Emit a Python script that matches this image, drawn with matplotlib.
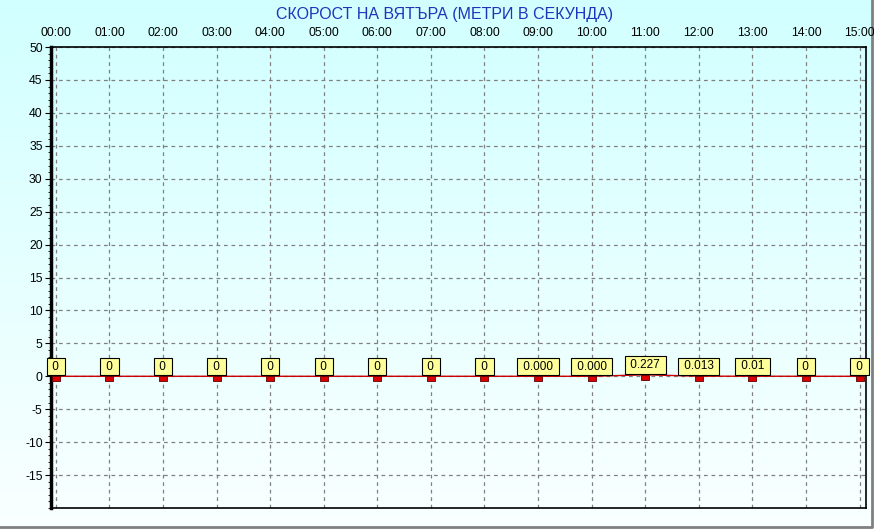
import numpy as np
import matplotlib
matplotlib.use("Agg")
from matplotlib import pyplot as plt
from matplotlib.path import Path

# Данни
hours = ["00:00", "01:00", "02:00", "03:00", "04:00", "05:00", "06:00", "07:00",
         "08:00", "09:00", "10:00", "11:00", "12:00", "13:00", "14:00", "15:00"]
wind = [0, 0, 0, 0, 0, 0, 0, 0, 0, 0.0, 0.0, 0.227, 0.013, 0.01, 0, 0]
labels = ["0", "0", "0", "0", "0", "0", "0", "0", "0",
          "0.000", "0.000", "0.227", "0.013", "0.01", "0", "0"]
title = "СКОРОСТ НА ВЯТЪРА (МЕТРИ В СЕКУНДА)"

plt.rcParams["font.family"] = ["Liberation Sans", "DejaVu Sans"]
plt.rcParams["axes.unicode_minus"] = False

fig = plt.figure(figsize=(8.74, 5.29), dpi=100)

# фон с преливане
bg = fig.add_axes([0, 0, 1, 1], zorder=0)
grad = np.linspace(0, 1, 256).reshape(-1, 1)
top_c = np.array([0.82, 1.0, 1.0])
bot_c = np.array([0.98, 1.0, 1.0])
img = top_c * (1 - grad[..., None]) + bot_c * grad[..., None]
img = np.repeat(img, 2, axis=1)
bg.imshow(img, aspect="auto", extent=[0, 1, 0, 1])
bg.plot([0, 0.9975, 0.9975], [0.004, 0.004, 1], color="#808080", lw=2.0)
bg.set_xlim(0, 1)
bg.set_ylim(0, 1)
bg.axis("off")

ax = fig.add_axes([51 / 874, 21 / 529, 815 / 874, 461 / 529], zorder=1)
ax.patch.set_alpha(0)

x = np.arange(len(hours))
ax.set_xlim(-0.09, 15.12)
ax.set_ylim(-20, 50)

ax.plot(x, wind, color="#cc0000", lw=1.0, zorder=3)

rect = Path([(-1, -1.2), (1, -1.2), (1, 0.0), (-1, 0.0), (-1, -1.2)],
            [Path.MOVETO, Path.LINETO, Path.LINETO, Path.LINETO, Path.CLOSEPOLY])
ax.scatter(x, wind, marker=rect, s=60, color="#dd0000", edgecolors="#600000",
           linewidths=0.6, zorder=4, clip_on=False)

# етикети в жълти кутии (интервалите само разширяват кутията)
for xi, yi, lab in zip(x, wind, labels):
    ax.annotate(" " + lab + " ", (xi, yi), xytext=(0, 7), textcoords="offset points",
                ha="center", va="center", fontsize=8.5, zorder=5,
                bbox=dict(boxstyle="square,pad=0.22", fc="#ffff99", ec="black", lw=0.8),
                annotation_clip=False)

ax.set_xticks(x)
ax.set_xticklabels(hours)
ax.xaxis.tick_top()
ax.tick_params(axis="x", length=0, pad=6, labelsize=8.8)
ax.set_yticks(np.arange(-15, 51, 5))
ax.set_yticks(np.arange(-20, 51, 1), minor=True)
ax.tick_params(axis="y", which="major", length=4, labelsize=8.8, pad=2)
ax.tick_params(axis="y", which="minor", length=2)

ax.grid(True, color="#808080", linestyle=(0, (3, 3)), lw=0.9)
ax.set_axisbelow(True)

ax.spines["left"].set_linewidth(2.5)
ax.spines["bottom"].set_linewidth(1.2)
ax.spines["right"].set_linewidth(1.2)
ax.spines["top"].set_linewidth(1.2)

fig.text(445 / 874, 1 - 15 / 529, title, ha="center", va="center",
         color="#2233bb", fontsize=11.5)

fig.savefig("out.png", dpi=100)
